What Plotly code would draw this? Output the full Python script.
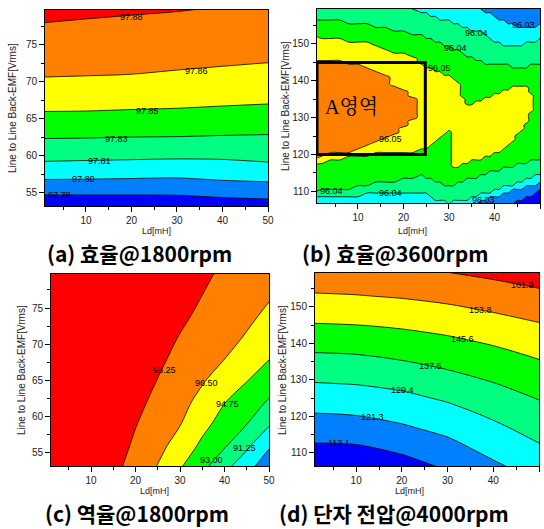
import plotly.graph_objects as go

# ---------------- colours (8-step rainbow used by all four maps) ----------------
band_colors = ["rgb(0,0,255)", "rgb(0,128,255)", "rgb(0,255,255)", "rgb(0,255,128)",
               "rgb(0,255,0)", "rgb(255,255,0)", "rgb(255,128,0)", "rgb(255,0,0)"]

# ---------------- (a) efficiency @1800rpm ----------------
ld_a = [1, 10, 20, 30, 40, 50]
emf_a = [53, 55, 57, 59, 61, 63, 65, 67, 69, 71, 73, 75, 77, 79, 81]
eff1800 = [
    [97.7662, 97.7665, 97.7671, 97.7683, 97.7700, 97.7715],
    [97.7824, 97.7824, 97.7823, 97.7825, 97.7848, 97.7863],
    [97.7984, 97.7980, 97.7973, 97.7967, 97.7990, 97.8004],
    [97.8120, 97.8113, 97.8107, 97.8100, 97.8107, 97.8127],
    [97.8232, 97.8228, 97.8221, 97.8217, 97.8213, 97.8218],
    [97.8335, 97.8332, 97.8325, 97.8322, 97.8313, 97.8306],
    [97.8427, 97.8425, 97.8417, 97.8410, 97.8397, 97.8386],
    [97.8508, 97.8505, 97.8497, 97.8490, 97.8478, 97.8467],
    [97.8580, 97.8574, 97.8565, 97.8555, 97.8542, 97.8528],
    [97.8645, 97.8640, 97.8633, 97.8620, 97.8606, 97.8590],
    [97.8689, 97.8683, 97.8675, 97.8666, 97.8656, 97.8645],
    [97.8733, 97.8725, 97.8717, 97.8707, 97.8696, 97.8685],
    [97.8778, 97.8768, 97.8758, 97.8749, 97.8736, 97.8725],
    [97.8822, 97.8811, 97.8800, 97.8790, 97.8776, 97.8764],
    [97.8867, 97.8854, 97.8842, 97.8831, 97.8816, 97.8804],
]
levels_a = dict(start=97.78, end=97.881, size=0.1 / 6)
labels_a_text = ["97.88", "97.86", "97.85", "97.83", "97.81", "97.80", "97.78"]
labels_a_x = [20.0, 34.2, 23.6, 16.7, 12.9, 9.4, 4.1]
labels_a_y = [78.7, 71.4, 66.1, 62.2, 59.3, 56.8, 54.7]

# ---------------- (b) efficiency @3600rpm ----------------
# band read per Ld column: (band at bottom, [(Back-EMF where band changes, new band), ...])
ld_b = [0, 2, 4, 6, 8, 10, 12, 14, 16, 18, 20, 22, 24, 25, 26, 27, 28, 29, 30, 31, 32, 33, 34, 35,
        36, 37, 38, 39, 40, 41, 42, 43, 44, 45, 46, 47, 48, 49, 50]
emf_b = [106, 107, 108, 109, 110, 111, 112, 113, 114, 115, 116, 117, 118, 119, 120, 121, 122, 123, 124,
         125, 126, 127, 128, 129, 130, 131, 132, 133, 134, 135, 136, 137, 138, 139, 140, 141, 142, 143,
         144, 145, 146, 147, 148, 149, 150, 151, 152, 153, 154, 155, 156, 157, 158, 159, 160]
band_value_b = [96.0242, 96.0292, 96.0342, 96.0392, 96.0442, 96.0492, 96.0542]
band_cols_b = [
    (2, [(108.1, 3), (109.9, 4), (117.6, 5), (119.0, 6), (145.5, 5), (152.1, 4), (156.8, 3)]),   # 0
    (2, [(108.3, 3), (110.1, 4), (117.9, 5), (119.3, 6), (145.4, 5), (151.9, 4), (156.6, 3)]),   # 2
    (2, [(108.4, 3), (110.2, 4), (118.3, 5), (120.2, 6), (145.3, 5), (151.6, 4), (156.3, 3)]),   # 4
    (2, [(108.6, 3), (110.4, 4), (118.8, 5), (120.6, 6), (145.1, 5), (151.2, 4), (156.1, 3)]),   # 6
    (2, [(108.7, 3), (110.8, 4), (119.3, 5), (121.0, 6), (144.7, 5), (150.9, 4), (155.8, 3)]),   # 8
    (2, [(108.9, 3), (111.4, 4), (119.7, 5), (121.6, 6), (144.2, 5), (150.6, 4), (155.5, 3)]),   # 10
    (2, [(109.1, 3), (111.9, 4), (120.0, 5), (122.4, 6), (143.6, 5), (150.3, 4), (155.2, 3)]),   # 12
    (2, [(109.3, 3), (112.4, 4), (120.1, 5), (123.5, 6), (142.9, 5), (149.8, 4), (154.9, 3)]),   # 14
    (2, [(109.5, 3), (112.7, 4), (120.2, 5), (124.6, 6), (141.2, 5), (148.9, 4), (154.4, 3)]),   # 16
    (2, [(109.7, 3), (113.0, 4), (120.3, 5), (126.0, 6), (139.0, 5), (148.0, 4), (153.9, 3)]),   # 18
    (2, [(109.9, 3), (113.4, 4), (120.5, 5), (127.4, 6), (137.5, 5), (147.2, 4), (153.5, 3)]),   # 20
    (2, [(110.0, 3), (113.9, 4), (120.8, 5), (129.8, 6), (135.6, 5), (146.4, 4), (153.0, 3), (159.7, 2)]),  # 22
    (2, [(109.7, 3), (114.5, 4), (121.2, 5), (144.8, 4), (152.3, 3), (158.8, 2)]),   # 24
    (2, [(109.1, 3), (114.0, 4), (121.8, 5), (144.0, 4), (151.9, 3), (158.3, 2)]),   # 25
    (2, [(108.5, 3), (113.6, 4), (122.5, 5), (143.2, 4), (151.5, 3), (157.8, 2)]),   # 26
    (2, [(107.9, 3), (112.9, 4), (123.5, 5), (142.7, 4), (151.0, 3), (157.3, 2)]),   # 27
    (2, [(107.3, 3), (112.2, 4), (124.5, 5), (142.2, 4), (150.6, 3), (156.9, 2)]),   # 28
    (2, [(107.1, 3), (111.8, 4), (125.5, 5), (141.7, 4), (150.0, 3), (156.5, 2)]),   # 29
    (2, [(107.0, 3), (111.6, 4), (126.6, 5), (141.3, 4), (149.4, 3), (156.1, 2)]),   # 30
    (2, [(107.1, 3), (112.0, 4), (116.8, 5), (140.6, 4), (148.8, 3), (155.7, 2)]),   # 31
    (2, [(107.3, 3), (112.4, 4), (116.4, 5), (139.8, 4), (148.3, 3), (155.3, 2)]),   # 32
    (2, [(107.6, 3), (112.8, 4), (117.2, 5), (135.4, 4), (147.6, 3), (154.8, 2)]),   # 33
    (1, [(106.3, 2), (108.0, 3), (113.2, 4), (117.8, 5), (133.6, 4), (146.9, 3), (154.4, 2)]),   # 34
    (1, [(106.6, 2), (108.3, 3), (113.6, 4), (118.1, 5), (134.0, 4), (146.3, 3), (154.0, 2)]),   # 35
    (1, [(107.0, 2), (108.7, 3), (114.0, 4), (118.5, 5), (134.4, 4), (145.8, 3), (153.6, 2)]),   # 36
    (1, [(107.4, 2), (109.1, 3), (114.4, 4), (118.9, 5), (134.8, 4), (145.3, 3), (153.1, 2), (159.3, 1)]),  # 37
    (1, [(107.8, 2), (109.5, 3), (114.8, 4), (119.3, 5), (135.2, 4), (144.9, 3), (152.5, 2), (158.8, 1)]),  # 38
    (1, [(108.2, 2), (109.9, 3), (115.2, 4), (119.7, 5), (135.7, 4), (144.6, 3), (151.8, 2), (158.1, 1)]),  # 39
    (1, [(108.6, 2), (110.3, 3), (115.5, 4), (120.2, 5), (136.2, 4), (144.4, 3), (151.0, 2), (157.5, 1)]),  # 40
    (1, [(109.0, 2), (110.7, 3), (115.9, 4), (121.0, 5), (136.7, 4), (144.3, 3), (150.4, 2), (156.8, 1)]),  # 41
    (1, [(109.4, 2), (111.2, 3), (116.3, 4), (122.0, 5), (137.3, 4), (144.2, 3), (150.0, 2), (156.2, 1)]),  # 42
    (1, [(109.8, 2), (111.6, 3), (116.6, 4), (123.0, 5), (137.9, 4), (144.1, 3), (149.9, 2), (155.4, 1)]),  # 43
    (0, [(106.7, 1), (110.2, 2), (112.0, 3), (117.0, 4), (124.0, 5), (138.4, 4), (144.0, 3), (149.9, 2), (155.3, 1)]),  # 44
    (0, [(107.3, 1), (110.5, 2), (112.4, 3), (117.3, 4), (125.3, 5), (138.8, 4), (143.9, 3), (149.9, 2), (155.0, 1)]),  # 45
    (0, [(107.9, 1), (110.9, 2), (112.9, 3), (117.6, 4), (126.9, 5), (138.6, 4), (143.9, 3), (150.0, 2), (155.0, 1)]),  # 46
    (0, [(108.4, 1), (111.3, 2), (113.3, 3), (117.9, 4), (128.6, 5), (138.2, 4), (144.0, 3), (150.2, 2), (155.0, 1)]),  # 47
    (0, [(109.0, 1), (111.7, 2), (113.7, 3), (118.2, 4), (131.5, 5), (136.5, 4), (144.1, 3), (150.5, 2), (155.0, 1)]),  # 48
    (0, [(109.5, 1), (112.0, 2), (114.1, 3), (118.5, 4), (144.3, 3), (150.8, 2), (155.0, 1)]),  # 49
    (0, [(110.1, 1), (112.4, 2), (114.6, 3), (118.8, 4), (144.5, 3), (151.1, 2), (155.1, 1)]),  # 50
]
levels_b = dict(start=96.0267, end=96.0570, size=0.005)
labels_b_text = ["96.03", "96.04", "96.04", "96.05", "96.05", "96.04", "96.04", "96.03"]
labels_b_x = [46.3, 36.1, 31.4, 28.0, 17.1, 4.2, 17.1, 37.6]
labels_b_y = [155.2, 152.9, 148.8, 143.4, 124.1, 110.1, 109.6, 107.6]
region_box_b = dict(x0=1, x1=24.8, y0=120.0, y1=145.0)
region_text_b = dict(x=8.5, y=133.0, text="A영역")

# ---------------- (c) power factor @1800rpm ----------------
ld_c = [1, 10, 15, 20, 25, 30, 35, 40, 45, 50]
emf_c = [53, 56, 59, 62, 65, 68, 71, 74, 77, 80]
pf1800 = [
    [99.3, 99.0, 98.71, 97.56, 96.39, 94.87, 93.41, 91.66, 90.13, 88.21],
    [99.5, 99.3, 98.98, 97.99, 97.01, 95.80, 94.41, 93.19, 91.56, 89.72],
    [99.7, 99.5, 99.2, 98.32, 97.45, 96.57, 95.24, 94.08, 93.02, 91.44],
    [99.8, 99.6, 99.3, 98.67, 97.83, 97.00, 96.01, 94.80, 93.84, 92.82],
    [99.8, 99.6, 99.4, 98.99, 98.21, 97.43, 96.64, 95.74, 94.81, 93.77],
    [99.8, 99.6, 99.4, 99.1, 98.53, 97.86, 97.19, 96.51, 95.66, 94.80],
    [99.9, 99.7, 99.5, 99.2, 98.79, 98.19, 97.60, 97.00, 96.38, 95.59],
    [99.9, 99.7, 99.5, 99.3, 99.0, 98.53, 97.97, 97.40, 96.83, 96.21],
    [99.9, 99.8, 99.6, 99.4, 99.1, 98.8, 98.27, 97.74, 97.21, 96.68],
    [99.9, 99.8, 99.7, 99.5, 99.2, 99.0, 98.53, 98.03, 97.53, 97.04],
]
levels_c = dict(start=87.75, end=98.26, size=1.75)
labels_c_text = ["98.25", "96.50", "94.75", "93.00", "91.25"]
labels_c_x = [26.4, 35.9, 40.6, 37.1, 44.6]
labels_c_y = [66.4, 64.6, 61.8, 54.0, 55.7]

# ---------------- (d) terminal voltage @4000rpm ----------------
ld_d = [1, 10, 20, 30, 40, 50]
emf_d = [105, 109, 113, 117, 121, 125, 129, 133, 137, 141, 145, 149, 153, 157, 161]
vt4000 = [
    [105.50, 105.62, 108.63, 112.95, 118.61, 124.04],
    [109.46, 109.73, 112.55, 116.53, 122.06, 126.82],
    [113.43, 113.85, 116.46, 120.10, 124.99, 129.59],
    [117.39, 117.97, 120.38, 123.54, 127.92, 132.35],
    [121.36, 122.02, 124.00, 126.93, 130.96, 135.10],
    [125.22, 125.85, 127.53, 130.39, 134.13, 137.88],
    [129.09, 129.68, 131.27, 134.04, 137.28, 140.78],
    [133.05, 133.60, 135.24, 137.69, 140.46, 143.68],
    [137.02, 137.51, 139.10, 141.15, 143.65, 146.69],
    [141.07, 141.53, 142.84, 144.60, 147.00, 149.91],
    [145.14, 145.54, 146.62, 148.29, 150.61, 153.13],
    [149.09, 149.51, 150.54, 152.07, 154.23, 156.57],
    [153.03, 153.47, 154.41, 155.83, 157.83, 160.06],
    [156.62, 157.08, 158.06, 159.57, 161.44, 163.56],
    [160.14, 160.65, 161.72, 163.30, 165.06, 167.05],
]
levels_d = dict(start=113.13, end=161.95, size=8.128)
labels_d_text = ["161.9", "153.8", "145.6", "137.5", "129.4", "121.3", "113.1"]
labels_d_x = [46.3, 37.2, 33.3, 26.2, 20.1, 13.5, 6.2]
labels_d_y = [156.0, 149.2, 141.2, 133.8, 127.1, 119.8, 112.7]

panel_titles = ["(a) 효율@1800rpm", "(b) 효율@3600rpm", "(c) 역율@1800rpm", "(d) 단자 전압@4000rpm"]
x_title = "Ld[mH]"
y_title = "Line to Line Back-EMF[Vrms]"

# ---------------- build band grid for (b) ----------------
z_b = []
for y in emf_b:
    row = []
    for bottom_band, changes in band_cols_b:
        band = bottom_band
        for yb, nb in changes:
            if y >= yb:
                band = nb
        row.append(band_value_b[band])
    z_b.append(row)

# stepped colour scale: one flat colour per contour band (band k centred at k/7)
edges = [0.0, 0.095, 1.5 / 7, 2.5 / 7, 3.5 / 7, 4.5 / 7, 5.5 / 7, 6.5 / 7, 1.0]
cscale = []
for k in range(8):
    cscale.append([edges[k], band_colors[k]])
    cscale.append([edges[k + 1], band_colors[k]])

W, H = 544, 529
dom = {
    "a": ([45, 268], [10, 206]),
    "b": ([317, 540], [9, 203]),
    "c": ([51, 269], [274, 466]),
    "d": ([315, 539], [273, 466]),
}


def xd(p):
    return [p[0][0] / W, p[0][1] / W]


def yd(p):
    return [1 - p[1][1] / H, 1 - p[1][0] / H]


fig = go.Figure()
panels = [
    ("a", "x", "y", ld_a, emf_a, eff1800, levels_a, labels_a_text, labels_a_x, labels_a_y, 0.8),
    ("b", "x2", "y2", ld_b, emf_b, z_b, levels_b, labels_b_text, labels_b_x, labels_b_y, 1.3),
    ("c", "x3", "y3", ld_c, emf_c, pf1800, levels_c, labels_c_text, labels_c_x, labels_c_y, 0.8),
    ("d", "x4", "y4", ld_d, emf_d, vt4000, levels_d, labels_d_text, labels_d_x, labels_d_y, 0.8),
]
annotations = []
for key, xa, ya, xs, ys, zs, lev, lt, lx, ly, sm in panels:
    fig.add_trace(go.Contour(
        x=xs, y=ys, z=zs, xaxis=xa, yaxis=ya,
        autocontour=False,
        contours=dict(start=lev["start"], end=lev["end"], size=lev["size"],
                      coloring="fill", showlines=True),
        line=dict(color="black", width=0.8, smoothing=sm),
        colorscale=cscale, showscale=False, hoverinfo="skip",
    ))
    for t, px, py in zip(lt, lx, ly):
        annotations.append(dict(x=px, y=py, xref=xa, yref=ya, text=t, showarrow=False,
                                font=dict(size=9, color="black", family="Liberation Sans, Arial")))

axis_font = dict(size=10, color="#222", family="Liberation Sans, Arial")
common_x = dict(range=[1, 50], tick0=0, dtick=10, ticks="outside", ticklen=5, tickcolor="black",
                showline=True, mirror=True, linecolor="black", linewidth=1, showgrid=False,
                zeroline=False, tickfont=axis_font, automargin=False,
                minor=dict(ticks="outside", ticklen=3, dtick=5, tick0=0, tickcolor="black"))
yranges = {"a": [53.2, 79.7], "b": [106.8, 159.5], "c": [53.2, 79.7], "d": [106.4, 159.3]}
ydticks = {"a": 5, "b": 10, "c": 5, "d": 10}

layout_axes = {}
names = {"a": ("xaxis", "yaxis", "x", "y"), "b": ("xaxis2", "yaxis2", "x2", "y2"),
         "c": ("xaxis3", "yaxis3", "x3", "y3"), "d": ("xaxis4", "yaxis4", "x4", "y4")}
for key, (xn, yn, xr, yr) in names.items():
    xcfg = dict(common_x)
    xcfg.update(domain=xd(dom[key]), anchor=yr)
    layout_axes[xn] = xcfg
    ycfg = dict(range=yranges[key], tick0=0, dtick=ydticks[key], ticks="outside", ticklen=5,
                tickcolor="black", showline=True, mirror=True, linecolor="black", linewidth=1,
                showgrid=False, zeroline=False, tickfont=axis_font, automargin=False,
                minor=dict(ticks="outside", ticklen=3, dtick=ydticks[key] / 2, tick0=0, tickcolor="black"),
                domain=yd(dom[key]), anchor=xr)
    layout_axes[yn] = ycfg

# axis titles placed where the reference shows them (pixel positions)
xt_pos = [(156, 231), (412, 231), (154, 491), (409, 491)]
for cx, cy in xt_pos:
    annotations.append(dict(x=cx / W, y=1 - cy / H, xref="paper", yref="paper", text=x_title,
                            showarrow=False, xanchor="center", yanchor="middle",
                            font=dict(size=9, color="#222", family="Liberation Sans, Arial")))
yt_pos = [(13, 108), (285, 106), (21, 370), (282, 370)]
for cx, cy in yt_pos:
    annotations.append(dict(x=cx / W, y=1 - cy / H, xref="paper", yref="paper", text=y_title,
                            showarrow=False, xanchor="center", yanchor="middle", textangle=-90,
                            font=dict(size=10, color="#222", family="Liberation Sans, Arial")))

# panel captions
cap_pos = [(139, 253), (395, 253), (137, 513), (394, 513)]
for t, (cx, cy) in zip(panel_titles, cap_pos):
    annotations.append(dict(x=cx / W, y=1 - cy / H, xref="paper", yref="paper", text="<b>" + t + "</b>",
                            showarrow=False, xanchor="center", yanchor="middle",
                            font=dict(size=21, color="black", family="Noto Sans CJK KR")))

annotations.append(dict(x=region_text_b["x"], y=region_text_b["y"], xref="x2", yref="y2",
                        text=region_text_b["text"], showarrow=False,
                        font=dict(size=20, color="black",
                                  family="Liberation Serif, Noto Serif CJK KR, Noto Sans CJK KR")))

shapes = [dict(type="rect", xref="x2", yref="y2", x0=region_box_b["x0"], x1=region_box_b["x1"],
               y0=region_box_b["y0"], y1=region_box_b["y1"], line=dict(color="black", width=3))]

fig.update_layout(
    width=W, height=H, margin=dict(l=0, r=0, t=0, b=0),
    paper_bgcolor="white", plot_bgcolor="white", showlegend=False, hovermode=False,
    font=dict(family="Liberation Sans, Arial", color="#222"),
    annotations=annotations, shapes=shapes, **layout_axes,
)
# remove the page's default 8px body margin so the figure sits at the window's corner
fig.write_html("out.html", config={"displayModeBar": False},
               post_script="document.body.style.margin='0';")
